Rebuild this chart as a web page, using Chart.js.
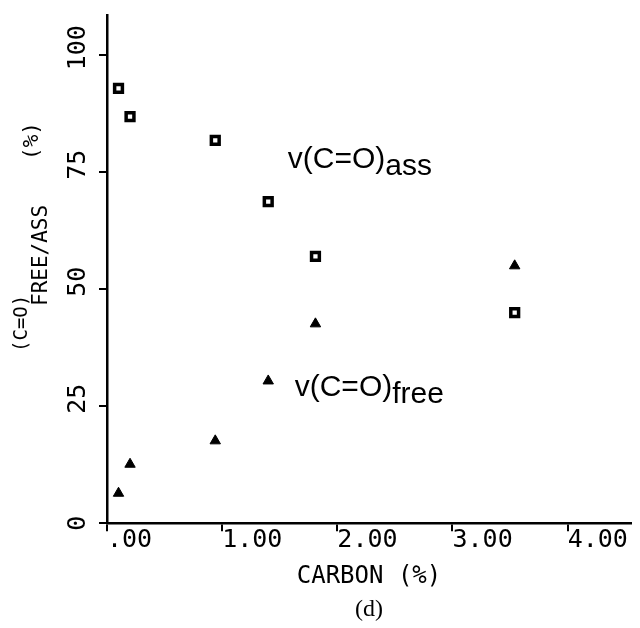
<!DOCTYPE html>
<html>
<head>
<meta charset="utf-8">
<script src="https://cdn.jsdelivr.net/npm/chart.js@4.4.0/dist/chart.umd.min.js"></script>
<style>
  body { margin: 0; background: #fff; }
  canvas { display: block; }
</style>
</head>
<body>
<canvas id="myChart" width="640" height="628"></canvas>
<script>
'use strict';
// carbon content (%) and the two C=O band fractions (%)
const carbon = [0.10, 0.20, 0.94, 1.40, 1.81, 3.54];
const assValues = [92.9, 86.9, 81.8, 68.7, 57.0, 45.0];
const freeValues = [6.4, 12.6, 17.6, 30.4, 42.6, 55.0];
const xTickValues = [0, 1, 2, 3, 4];
const xTickLabels = ['.00', '1.00', '2.00', '3.00', '4.00'];
const yTickValues = [0, 25, 50, 75, 100];
// the leading space lifts the turned labels a little above their tick, as in the plot
const yTickLabels = ['0', ' 25', ' 50', ' 75', ' 100'];

const plotFont = 'DejaVu Sans Mono';

function toPoints(xs, ys) {
    let pts = [];
    for (let i = 0; i < xs.length; i++) {
        pts.push({x: xs[i], y: ys[i]});
    }
    return pts;
}

// series names written in the plot, anchored in data units
const seriesLabels = [
    {main: 'v(C=O)', sub: 'ass', x: 1.57, y: 76.0},
    {main: 'v(C=O)', sub: 'free', x: 1.63, y: 27.2},
];

// y axis title, written upwards: text, font size, baseline x, start y
const yTitleParts = [
    {text: '(C=O)', size: 19, bx: 27, y: 352},
    {text: 'FREE/ASS', size: 21, bx: 47, y: 306},
    {text: '(%)', size: 21, bx: 38, y: 160},
];

const labelPlugin = {
    id: 'labelPlugin',
    afterDraw(chart) {
        const ctx = chart.ctx;
        const xs = chart.scales.x;
        const ys = chart.scales.y;
        ctx.save();
        ctx.fillStyle = '#000';
        ctx.textBaseline = 'alphabetic';
        ctx.textAlign = 'left';
        ctx.font = '30px "Liberation Sans"';
        seriesLabels.forEach(function (l) {
            let px = xs.getPixelForValue(l.x);
            let py = ys.getPixelForValue(l.y);
            ctx.fillText(l.main, px, py);
            let w = ctx.measureText(l.main).width;
            ctx.fillText(l.sub, px + w, py + 7);
        });
        yTitleParts.forEach(function (p) {
            ctx.save();
            ctx.font = p.size + 'px "' + plotFont + '"';
            ctx.translate(p.bx, p.y);
            ctx.rotate(-Math.PI / 2);
            ctx.fillText(p.text, 0, 0);
            ctx.restore();
        });
        ctx.restore();
    }
};

const context = document.getElementById('myChart').getContext('2d');
const chart = new Chart(context, {
    type: 'scatter',
    data: {
        datasets: [{
            label: 'ass',
            data: toPoints(carbon, assValues),
            pointStyle: 'rect',
            pointRadius: 5.5,
            pointBorderWidth: 3.5,
            borderColor: '#000',
            backgroundColor: '#fff',
        }, {
            label: 'free',
            data: toPoints(carbon, freeValues),
            pointStyle: 'triangle',
            pointRadius: 6,
            pointBorderWidth: 1,
            borderColor: '#000',
            backgroundColor: '#000',
        }]
    },
    options: {
        responsive: false,
        animation: false,
        devicePixelRatio: 1,
        layout: {padding: {top: 15, right: 3, left: 0, bottom: 0}},
        plugins: {
            legend: {display: false},
            tooltip: {enabled: false},
            title: {
                display: true,
                text: '(d)',
                position: 'bottom',
                fullSize: false,
                color: '#000',
                font: {family: 'Liberation Serif', size: 24, weight: 'normal'},
                padding: {top: 0, bottom: 4}
            }
        },
        scales: {
            x: {
                type: 'linear',
                min: 0,
                max: 4.55,
                afterBuildTicks: function (scale) {
                    scale.ticks = xTickValues.map(v => ({value: v}));
                },
                afterFit: function (scale) {
                    scale.height = 72;
                    scale.paddingLeft = 0;
                    scale.paddingRight = 0;
                },
                border: {color: '#000', width: 2.5},
                grid: {drawOnChartArea: false, color: '#000', lineWidth: 2, tickLength: 8},
                ticks: {
                    align: 'start',
                    padding: -6,
                    color: '#000',
                    font: {family: plotFont, size: 25},
                    callback: function (v) { return xTickLabels[xTickValues.indexOf(v)]; }
                },
                title: {
                    display: true,
                    text: 'CARBON (%)',
                    color: '#000',
                    font: {family: plotFont, size: 24},
                    padding: {top: 0, bottom: 4}
                }
            },
            y: {
                type: 'linear',
                min: 0,
                max: 108.6,
                afterBuildTicks: function (scale) {
                    scale.ticks = yTickValues.map(v => ({value: v}));
                },
                afterFit: function (scale) { scale.width = 107; },
                border: {color: '#000', width: 2.5},
                grid: {drawOnChartArea: false, color: '#000', lineWidth: 2, tickLength: 8},
                ticks: {
                    minRotation: 90,
                    maxRotation: 90,
                    crossAlign: 'center',
                    padding: -9.5,
                    color: '#000',
                    font: {family: plotFont, size: 25},
                    callback: function (v) { return yTickLabels[yTickValues.indexOf(v)]; }
                }
            }
        }
    },
    plugins: [labelPlugin]
});
</script>
</body>
</html>
